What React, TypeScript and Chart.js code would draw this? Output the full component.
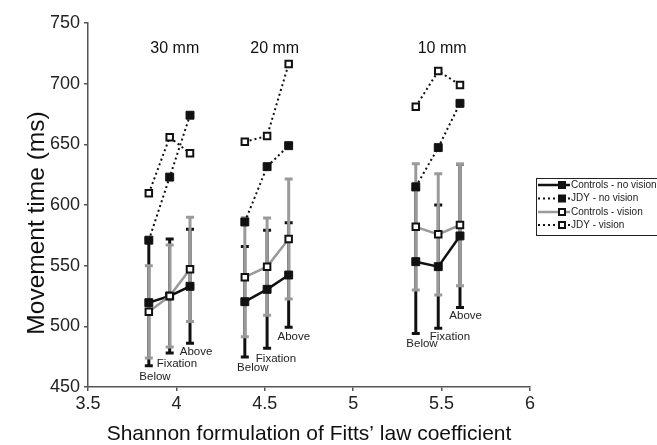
import React, { useEffect, useRef } from 'react';
import { Chart, registerables } from 'chart.js';

Chart.register(...registerables);

// ---- Data ----
const conditions = ['Below', 'Fixation', 'Above', 'Below', 'Fixation', 'Above', 'Below', 'Fixation', 'Above'];
const groupTitles = ['30 mm', '20 mm', '10 mm'];
const groupTitleX = [3.991, 4.556, 5.503];
const groupTitleY = 729;
const xValues = [3.844, 3.962, 4.077, 4.387, 4.513, 4.635, 5.354, 5.481, 5.604];

const controlsNoVision = [519.5, 525, 533, 520.3, 530.5, 542.3, 553.3, 549.2, 574.5];
const controlsNoVisionSD = [52, 47, 47, 45.5, 48.6, 43, 59.3, 50.8, 59];
const jdyNoVision = [571, 623, 674, 586, 631.6, 648.9, 615, 647.3, 683.8];
const controlsVision = [512, 525, 547, 540.5, 549.2, 572, 582, 575.8, 583.5];
const controlsVisionSD = [38, 42, 43, 49, 40, 49.4, 52, 50, 50];
const jdyVision = [609.6, 655.8, 642.6, 652.2, 656.9, 716.2, 681, 710.4, 699];

const labelX = [3.879, 4.003, 4.111, 4.432, 4.563, 4.664, 5.389, 5.547, 5.636];
const labelY = [458.5, 468.7, 478.6, 465.4, 473.1, 491.5, 485.4, 491.5, 508.5];

const seriesNames = ['Controls - no vision', 'JDY - no vision', 'Controls - vision', 'JDY - vision'];
const yTitle = 'Movement time (ms)';
const xTitle = 'Shannon formulation of Fitts\u2019 law coefficient';

const xMin = 3.5, xMax = 6, xStep = 0.5;
const yMin = 450, yMax = 750, yStep = 50;

const FONT = "'Liberation Sans', Arial, Helvetica, sans-serif";
const BLACK = '#111111';
const GRAY = '#9a9a9a';

// build data with gaps between the three target-size groups
function withGaps(vals: number[]) {
  const out: { x: number; y: number | null }[] = [];
  vals.forEach((v, i) => {
    out.push({ x: xValues[i], y: v });
    if (i % 3 === 2 && i < vals.length - 1) {
      out.push({ x: (xValues[i] + xValues[i + 1]) / 2, y: null });
    }
  });
  return out;
}

const errorBarPlugin = {
  id: 'errorBars',
  beforeDatasetsDraw(chart: any) {
    const { ctx, scales } = chart;
    const x = scales.x, y = scales.y;
    const draw = (means: number[], sds: number[], color: string, width: number, cap: number) => {
      ctx.save();
      ctx.strokeStyle = color;
      ctx.lineWidth = width;
      ctx.lineCap = 'butt';
      means.forEach((m, i) => {
        const px = x.getPixelForValue(xValues[i]);
        const top = y.getPixelForValue(m + sds[i]);
        const bot = y.getPixelForValue(m - sds[i]);
        ctx.beginPath();
        ctx.moveTo(px, top);
        ctx.lineTo(px, bot);
        ctx.stroke();
        ctx.beginPath();
        ctx.moveTo(px - cap / 2, top);
        ctx.lineTo(px + cap / 2, top);
        ctx.moveTo(px - cap / 2, bot);
        ctx.lineTo(px + cap / 2, bot);
        ctx.stroke();
      });
      ctx.restore();
    };
    draw(controlsNoVision, controlsNoVisionSD, BLACK, 3, 8);
    draw(controlsVision, controlsVisionSD, GRAY, 3, 8);
  },
};

const annotationPlugin = {
  id: 'annotations',
  afterDatasetsDraw(chart: any) {
    const { ctx, scales, chartArea } = chart;
    const x = scales.x, y = scales.y;
    ctx.save();
    ctx.fillStyle = BLACK;
    ctx.textAlign = 'center';
    ctx.textBaseline = 'middle';
    ctx.font = `16px ${FONT}`;
    groupTitles.forEach((t, i) => {
      ctx.fillText(t, x.getPixelForValue(groupTitleX[i]), y.getPixelForValue(groupTitleY));
    });
    ctx.fillStyle = '#222';
    ctx.font = `11.5px ${FONT}`;
    conditions.forEach((c, i) => {
      ctx.fillText(c, x.getPixelForValue(labelX[i]), y.getPixelForValue(labelY[i]));
    });
    // y axis title (slightly below the axis centre, as in the original figure)
    ctx.translate(37, (chartArea.top + chartArea.bottom) / 2 + 18);
    ctx.rotate(-Math.PI / 2);
    ctx.fillStyle = BLACK;
    ctx.font = `24.5px ${FONT}`;
    ctx.fillText(yTitle, 0, 0);
    ctx.restore();
  },
};

const legendPlugin = {
  id: 'customLegend',
  afterDraw(chart: any) {
    const { ctx } = chart;
    const left = 536, top = 178, bottom = 235, right = 700;
    ctx.save();
    ctx.strokeStyle = '#222';
    ctx.lineWidth = 1;
    ctx.strokeRect(left + 0.5, top + 0.5, right - left, bottom - top);
    const rows = [185, 198.5, 212, 225];
    const styles = [
      { color: BLACK, dash: [] as number[], w: 2.5, fill: BLACK },
      { color: BLACK, dash: [2, 3], w: 2, fill: BLACK },
      { color: GRAY, dash: [] as number[], w: 2.5, fill: '#fff' },
      { color: BLACK, dash: [2, 3], w: 2, fill: '#fff' },
    ];
    rows.forEach((ry, i) => {
      const s = styles[i];
      ctx.beginPath();
      ctx.setLineDash(s.dash);
      ctx.strokeStyle = s.color;
      ctx.lineWidth = s.w;
      ctx.moveTo(538, ry);
      ctx.lineTo(570, ry);
      ctx.stroke();
      ctx.setLineDash([]);
      const mx = 562;
      if (s.fill === BLACK) {
        ctx.fillStyle = BLACK;
        ctx.fillRect(mx - 4, ry - 4, 8, 8);
      } else {
        ctx.fillStyle = '#fff';
        ctx.fillRect(mx - 3.5, ry - 3.5, 7, 7);
        ctx.strokeStyle = BLACK;
        ctx.lineWidth = 2;
        ctx.strokeRect(mx - 3, ry - 3, 6, 6);
      }
      ctx.fillStyle = '#222';
      ctx.font = `10px ${FONT}`;
      ctx.textAlign = 'left';
      ctx.textBaseline = 'middle';
      ctx.fillText(seriesNames[i], 571, ry);
    });
    ctx.restore();
  },
};

export default function App() {
  const ref = useRef<HTMLCanvasElement | null>(null);
  useEffect(() => {
    if (!ref.current) return;
    const chart = new Chart(ref.current, {
      type: 'line',
      data: {
        datasets: [
          {
            label: seriesNames[2],
            data: withGaps(controlsVision),
            borderColor: GRAY,
            borderWidth: 2.5,
            pointStyle: 'rect',
            pointRadius: 4.6,
            pointBackgroundColor: '#fff',
            pointBorderColor: BLACK,
            pointBorderWidth: 2,
            spanGaps: false,
          },
          {
            label: seriesNames[0],
            data: withGaps(controlsNoVision),
            borderColor: BLACK,
            borderWidth: 2.5,
            pointStyle: 'rect',
            pointRadius: 5.6,
            pointBackgroundColor: BLACK,
            pointBorderColor: BLACK,
            pointBorderWidth: 1,
            spanGaps: false,
          },
          {
            label: seriesNames[3],
            data: withGaps(jdyVision),
            borderColor: BLACK,
            borderWidth: 2,
            borderDash: [2, 3],
            pointStyle: 'rect',
            pointRadius: 4.6,
            pointBackgroundColor: '#fff',
            pointBorderColor: BLACK,
            pointBorderWidth: 2,
            spanGaps: false,
          },
          {
            label: seriesNames[1],
            data: withGaps(jdyNoVision),
            borderColor: BLACK,
            borderWidth: 2,
            borderDash: [2, 3],
            pointStyle: 'rect',
            pointRadius: 5.6,
            pointBackgroundColor: BLACK,
            pointBorderColor: BLACK,
            pointBorderWidth: 1,
            spanGaps: false,
          },
        ],
      },
      options: {
        responsive: false,
        animation: false,
        layout: { padding: { left: 0, right: 127, top: 23, bottom: 0 } },
        plugins: { legend: { display: false }, tooltip: { enabled: false } },
        scales: {
          x: {
            type: 'linear',
            min: xMin,
            max: xMax,
            afterFit: (s: any) => { s.height = 58; },
            ticks: {
              stepSize: xStep,
              color: '#222',
              font: { family: FONT, size: 18 },
              padding: 2,
              callback: (v: any) => String(Number(v)),
            },
            grid: { drawOnChartArea: false, drawTicks: true, tickLength: 4, color: '#555', lineWidth: 1.5 },
            border: { display: true, color: '#555', width: 1.5 },
            title: {
              display: true,
              text: xTitle,
              color: BLACK,
              font: { family: FONT, size: 21, lineHeight: 1 },
              padding: { top: 0, bottom: 0 },
            },
          },
          y: {
            type: 'linear',
            min: yMin,
            max: yMax,
            afterFit: (s: any) => { s.width = 88; },
            ticks: { stepSize: yStep, color: '#222', font: { family: FONT, size: 18 }, padding: 4 },
            grid: { drawOnChartArea: false, drawTicks: true, tickLength: 4, color: '#555', lineWidth: 1.5 },
            border: { display: true, color: '#555', width: 1.5 },
            title: { display: false },
          },
        },
      },
      plugins: [errorBarPlugin, annotationPlugin, legendPlugin],
    });
    return () => chart.destroy();
  }, []);
  return (
    <div style={{ position: 'absolute', left: 0, top: 0, width: 657, height: 445, background: '#fff' }}>
      <canvas ref={ref} width={657} height={445} />
    </div>
  );
}
